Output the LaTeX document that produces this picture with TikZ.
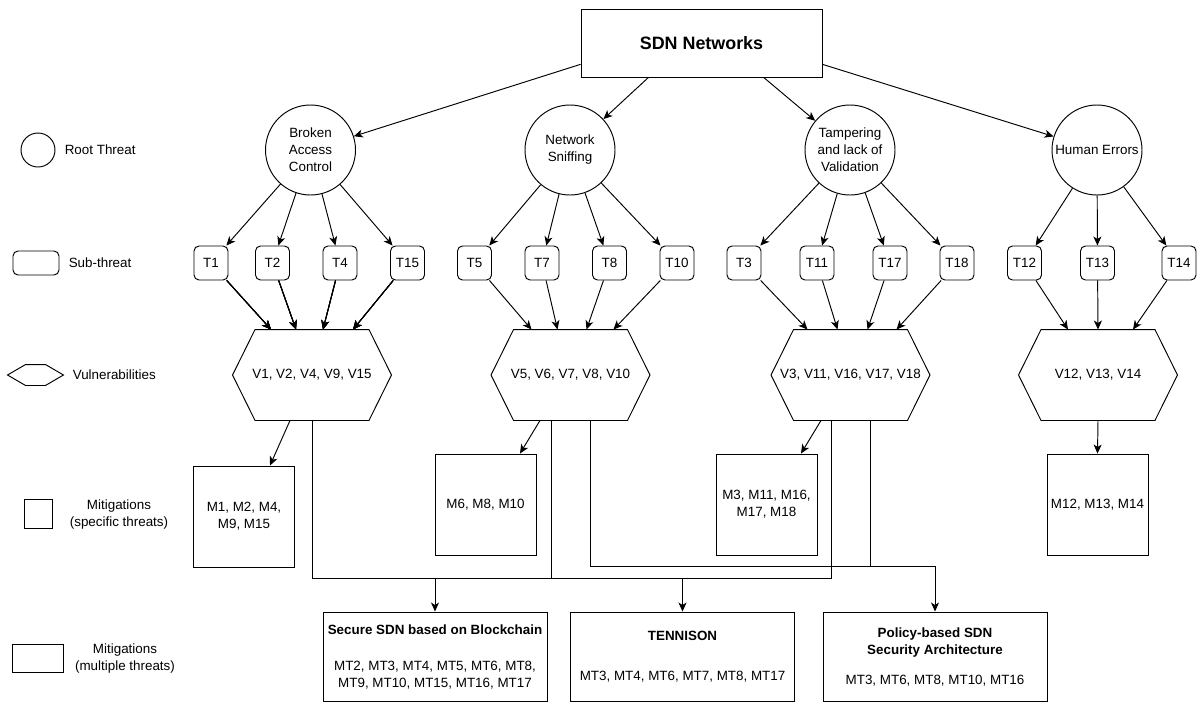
\documentclass[tikz,border=0pt]{standalone}
\usepackage{fontspec}
\setmainfont{Liberation Sans}
\usetikzlibrary{arrows.meta}
\tikzset{
  arr/.style={-{Stealth[length=9pt,width=8pt,inset=2.5pt]}},
  root/.style={draw,circle,minimum size=90pt,inner sep=0pt,align=center},
  sub/.style={draw,rounded corners=5pt,minimum width=34pt,minimum height=34pt,inner sep=0pt},
  vul/.style={minimum width=158pt,minimum height=90pt,inner sep=0pt},
  mit/.style={draw,minimum width=101pt,minimum height=101pt,inner sep=0pt,align=center},
  mitall/.style={draw,minimum width=224pt,minimum height=89pt,inner sep=0pt,align=center},
}
% hexagon round a (borderless) node: #1 node, #2 inset of the flat edges
\newcommand\vulhex[2]{\draw[line join=miter] (#1.west) -- ([xshift=#2]#1.north west) -- ([xshift=-#2]#1.north east) -- (#1.east) -- ([xshift=-#2]#1.south east) -- ([xshift=#2]#1.south west) -- cycle;}
\begin{document}
\begin{tikzpicture}[x=1pt,y=-1pt,line width=0.95pt,font=\fontsize{13.4}{17}\selectfont]
\useasboundingbox (0,0) rectangle (1197,702);
% legend
\node[circle,draw,minimum size=34pt,inner sep=0pt] (lroot) at (38,150) {};
\node[anchor=west] (lroott) at (61,150) {Root Threat};
\node[sub,minimum width=46pt,minimum height=24pt] (lsub) at (36,263) {};
\node[anchor=west] (lsubt) at (65,263) {Sub-threat};
\node[minimum width=55pt,minimum height=20pt,inner sep=0pt] (lvul) at (35.5,375) {};
\vulhex{lvul}{18pt}
\node[anchor=west] (lvult) at (69,375) {Vulnerabilities};
\node[draw,minimum width=28pt,minimum height=29pt,inner sep=0pt] (lmit) at (38,513.5) {};
\node[align=center] (lmitt) at (119,514.5) {Mitigations\\(specific threats)};
\node[draw,minimum width=51pt,minimum height=28pt,inner sep=0pt] (lall) at (37.5,658) {};
\node[align=center] (lallt) at (125,658.5) {Mitigations\\(multiple threats)};
% top and root threats
\node[draw,minimum width=241pt,minimum height=68pt,font=\fontsize{17.9}{20}\selectfont\bfseries] (SDN) at (701.5,43) {SDN Networks};
\node[root] (BAC) at (310.5,150) {Broken\\Access\\Control};
\node[root] (NS) at (570,150) {Network\\Sniffing};
\node[root] (TLV) at (850,150) {Tampering\\and lack of\\Validation};
\node[root] (HE) at (1097,150) {Human Errors};
\draw[arr] (SDN.190) -- (BAC);
\draw[arr] (SDN.213) -- (NS);
\draw[arr] (SDN.331) -- (TLV);
\draw[arr] (SDN.350) -- (HE);
% sub-threats
\foreach \t/\x in {T1/211,T2/272.5,T4/340,T15/407.5,T5/474.5,T7/542,T8/609.5,T10/677,T3/744,T11/817,T17/890,T18/957,T12/1024.5,T13/1097.5,T14/1179}
  \node[sub] (\t) at (\x,263) {\t};
\foreach \t in {T1,T2,T4,T15} \draw[arr] (BAC) -- (\t);
\foreach \t in {T5,T7,T8,T10} \draw[arr] (NS) -- (\t);
\foreach \t in {T3,T11,T17,T18} \draw[arr] (TLV) -- (\t);
\foreach \t in {T12,T13,T14} \draw[arr] (HE) -- (\t);
% vulnerabilities
\node[vul] (vul1) at (312,375) {V1, V2, V4, V9, V15};
\node[vul] (vul2) at (570.5,375) {V5, V6, V7, V8, V10};
\node[vul] (vul3) at (850.5,375) {V3, V11, V16, V17, V18};
\node[vul] (vul4) at (1098,375) {V12, V13, V14};
\foreach \v in {vul1,vul2,vul3,vul4} \vulhex{\v}{22.5pt}
\foreach \t/\o in {T1/-41,T2/-16,T4/11,T15/41} \draw[arr] (\t) -- ([xshift=\o pt]vul1.north);
\foreach \t/\o in {T5/-39,T7/-13,T8/16,T10/43} \draw[arr] (\t) -- ([xshift=\o pt]vul2.north);
\foreach \t/\o in {T3/-43,T11/-13,T17/17,T18/46} \draw[arr] (\t) -- ([xshift=\o pt]vul3.north);
\foreach \t/\o in {T12/-30,T13/0,T14/35} \draw[arr] (\t) -- ([xshift=\o pt]vul4.north);
% mitigations for specific threats
\node[mit] (mit1) at (244,516.5) {M1, M2, M4,\\M9, M15};
\node[mit] (mit2) at (485.5,504.5) {M6, M8, M10};
\node[mit] (mit3) at (766.5,504.5) {M3, M11, M16,\\M17, M18};
\node[mit] (mit4) at (1097.5,504.5) {M12, M13, M14};
\draw[arr] ([xshift=-22pt]vul1.south) -- ([xshift=26pt]mit1.north);
\draw[arr] ([xshift=-30.5pt]vul2.south) -- ([xshift=34.5pt]mit2.north);
\draw[arr] ([xshift=-29.5pt]vul3.south) -- ([xshift=34.5pt]mit3.north);
\draw[arr] (vul4.south) -- (mit4.north);
% mitigations for multiple threats
\node[mitall] (blk) at (435,656.5) {\textbf{Secure SDN based on Blockchain}\\[19pt]MT2, MT3, MT4, MT5, MT6, MT8,\\MT9, MT10, MT15, MT16, MT17};
\node[mitall] (ten) at (682.5,656.5) {\textbf{TENNISON}\\[23pt]MT3, MT4, MT6, MT7, MT8, MT17};
\node[mitall] (pol) at (935,656.5) {\textbf{Policy-based SDN}\\\textbf{Security Architecture}\\[13pt]MT3, MT6, MT8, MT10, MT16};
\coordinate (busA) at (0,578);
\coordinate (busB) at (0,566);
\draw (vul1.south) |- ([xshift=-19.5pt]vul3.south |- busA) -- ([xshift=-19.5pt]vul3.south);
\draw ([xshift=-19.5pt]vul2.south) -- ([xshift=-19.5pt]vul2.south |- busA);
\draw[arr] (blk.north |- busA) -- (blk.north);
\draw[arr] (ten.north |- busA) -- (ten.north);
\draw[arr] ([xshift=19.5pt]vul2.south) |- (pol.north |- busB) -- (pol.north);
\draw ([xshift=19.5pt]vul3.south) -- ([xshift=19.5pt]vul3.south |- busB);
\end{tikzpicture}
\end{document}
